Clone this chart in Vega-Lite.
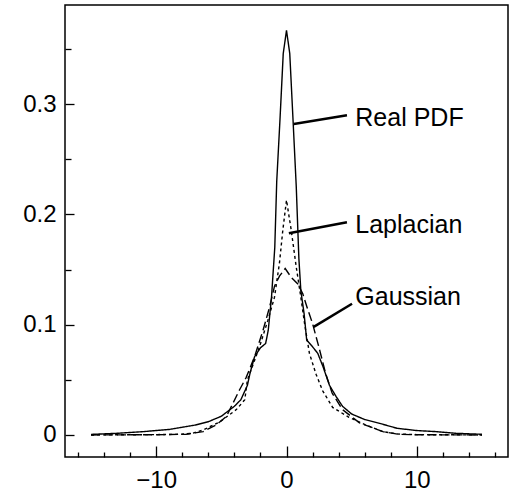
{
  "$schema": "https://vega.github.io/schema/vega-lite/v6.json",
  "width": 443,
  "height": 452,
  "autosize": {"type": "none"},
  "padding": {"left": 65, "top": 5, "right": 4, "bottom": 38},
  "background": "white",
  "config": {
    "view": {"stroke": "black", "strokeWidth": 1.5},
    "axis": {
      "domain": false,
      "grid": false,
      "title": null,
      "tickColor": "black",
      "tickWidth": 1.3,
      "labelFont": "Liberation Sans",
      "labelFontSize": 24,
      "labelColor": "black"
    }
  },
  "datasets": {
    "curves": [
      {"series": "Real PDF", "x": -15, "y": 0.0005},
      {"series": "Real PDF", "x": -13, "y": 0.0015},
      {"series": "Real PDF", "x": -11, "y": 0.003},
      {"series": "Real PDF", "x": -10, "y": 0.004},
      {"series": "Real PDF", "x": -9, "y": 0.005},
      {"series": "Real PDF", "x": -8, "y": 0.007},
      {"series": "Real PDF", "x": -7, "y": 0.009},
      {"series": "Real PDF", "x": -6, "y": 0.012},
      {"series": "Real PDF", "x": -5, "y": 0.017},
      {"series": "Real PDF", "x": -4, "y": 0.026},
      {"series": "Real PDF", "x": -3.5, "y": 0.032},
      {"series": "Real PDF", "x": -3, "y": 0.045},
      {"series": "Real PDF", "x": -2.8, "y": 0.056},
      {"series": "Real PDF", "x": -2.45, "y": 0.071},
      {"series": "Real PDF", "x": -2, "y": 0.079},
      {"series": "Real PDF", "x": -1.6, "y": 0.083},
      {"series": "Real PDF", "x": -1.4, "y": 0.095},
      {"series": "Real PDF", "x": -1.15, "y": 0.125},
      {"series": "Real PDF", "x": -0.9, "y": 0.17},
      {"series": "Real PDF", "x": -0.75, "y": 0.23},
      {"series": "Real PDF", "x": -0.5, "y": 0.286},
      {"series": "Real PDF", "x": -0.25, "y": 0.346},
      {"series": "Real PDF", "x": 0, "y": 0.367},
      {"series": "Real PDF", "x": 0.25, "y": 0.346},
      {"series": "Real PDF", "x": 0.5, "y": 0.286},
      {"series": "Real PDF", "x": 0.75, "y": 0.225},
      {"series": "Real PDF", "x": 0.95, "y": 0.16},
      {"series": "Real PDF", "x": 1.1, "y": 0.131},
      {"series": "Real PDF", "x": 1.35, "y": 0.11},
      {"series": "Real PDF", "x": 1.55, "y": 0.086},
      {"series": "Real PDF", "x": 2, "y": 0.08},
      {"series": "Real PDF", "x": 2.4, "y": 0.074},
      {"series": "Real PDF", "x": 2.8, "y": 0.062},
      {"series": "Real PDF", "x": 3.3, "y": 0.045},
      {"series": "Real PDF", "x": 3.8, "y": 0.035},
      {"series": "Real PDF", "x": 4.3, "y": 0.026},
      {"series": "Real PDF", "x": 5, "y": 0.019},
      {"series": "Real PDF", "x": 6, "y": 0.014},
      {"series": "Real PDF", "x": 7, "y": 0.011},
      {"series": "Real PDF", "x": 8.5, "y": 0.006},
      {"series": "Real PDF", "x": 10, "y": 0.004},
      {"series": "Real PDF", "x": 11.5, "y": 0.003},
      {"series": "Real PDF", "x": 13, "y": 0.0015},
      {"series": "Real PDF", "x": 15, "y": 0.0006},
      {"series": "Laplacian", "x": -15, "y": 0},
      {"series": "Laplacian", "x": -12, "y": 0.0002},
      {"series": "Laplacian", "x": -10, "y": 0.0003},
      {"series": "Laplacian", "x": -8.2, "y": 0.0006},
      {"series": "Laplacian", "x": -7.2, "y": 0.0015},
      {"series": "Laplacian", "x": -6.4, "y": 0.0045},
      {"series": "Laplacian", "x": -5.1, "y": 0.012},
      {"series": "Laplacian", "x": -3.85, "y": 0.023},
      {"series": "Laplacian", "x": -3.2, "y": 0.032},
      {"series": "Laplacian", "x": -3.0, "y": 0.05},
      {"series": "Laplacian", "x": -2.5, "y": 0.066},
      {"series": "Laplacian", "x": -2.07, "y": 0.08},
      {"series": "Laplacian", "x": -1.43, "y": 0.104},
      {"series": "Laplacian", "x": -0.92, "y": 0.125},
      {"series": "Laplacian", "x": -0.54, "y": 0.156},
      {"series": "Laplacian", "x": -0.28, "y": 0.186},
      {"series": "Laplacian", "x": 0, "y": 0.213},
      {"series": "Laplacian", "x": 0.36, "y": 0.186},
      {"series": "Laplacian", "x": 0.74, "y": 0.153},
      {"series": "Laplacian", "x": 1.1, "y": 0.125},
      {"series": "Laplacian", "x": 1.4, "y": 0.1},
      {"series": "Laplacian", "x": 1.76, "y": 0.074},
      {"series": "Laplacian", "x": 2.27, "y": 0.055},
      {"series": "Laplacian", "x": 2.78, "y": 0.04},
      {"series": "Laplacian", "x": 3.54, "y": 0.025},
      {"series": "Laplacian", "x": 4.8, "y": 0.016},
      {"series": "Laplacian", "x": 6.1, "y": 0.009},
      {"series": "Laplacian", "x": 7.4, "y": 0.003},
      {"series": "Laplacian", "x": 8.6, "y": 0.0008},
      {"series": "Laplacian", "x": 10, "y": 0.0003},
      {"series": "Laplacian", "x": 12, "y": 0.0002},
      {"series": "Laplacian", "x": 15, "y": 0},
      {"series": "Gaussian", "x": -15, "y": 0},
      {"series": "Gaussian", "x": -10, "y": 0.0002},
      {"series": "Gaussian", "x": -7.7, "y": 0.0006},
      {"series": "Gaussian", "x": -6.4, "y": 0.003},
      {"series": "Gaussian", "x": -5.4, "y": 0.009},
      {"series": "Gaussian", "x": -4.6, "y": 0.017},
      {"series": "Gaussian", "x": -4.1, "y": 0.029},
      {"series": "Gaussian", "x": -3.6, "y": 0.041},
      {"series": "Gaussian", "x": -3.1, "y": 0.052},
      {"series": "Gaussian", "x": -2.45, "y": 0.071},
      {"series": "Gaussian", "x": -1.8, "y": 0.095},
      {"series": "Gaussian", "x": -1.3, "y": 0.116},
      {"series": "Gaussian", "x": -0.92, "y": 0.135},
      {"series": "Gaussian", "x": -0.54, "y": 0.144},
      {"series": "Gaussian", "x": -0.1, "y": 0.151},
      {"series": "Gaussian", "x": 0.36, "y": 0.143},
      {"series": "Gaussian", "x": 0.87, "y": 0.137},
      {"series": "Gaussian", "x": 1.25, "y": 0.128},
      {"series": "Gaussian", "x": 1.6, "y": 0.115},
      {"series": "Gaussian", "x": 2, "y": 0.101},
      {"series": "Gaussian", "x": 2.5, "y": 0.079},
      {"series": "Gaussian", "x": 3.0, "y": 0.056},
      {"series": "Gaussian", "x": 3.5, "y": 0.038},
      {"series": "Gaussian", "x": 4.3, "y": 0.023},
      {"series": "Gaussian", "x": 5.6, "y": 0.011},
      {"series": "Gaussian", "x": 7.4, "y": 0.003},
      {"series": "Gaussian", "x": 8.6, "y": 0.0006},
      {"series": "Gaussian", "x": 10, "y": 0.0002},
      {"series": "Gaussian", "x": 12, "y": 0.0001},
      {"series": "Gaussian", "x": 15, "y": 0}
    ],
    "labels": [
      {"label": "Real PDF", "x": 5.28, "y": 0.28, "px": 0.56, "py": 0.282, "qx": 4.64, "qy": 0.29},
      {"label": "Laplacian", "x": 5.28, "y": 0.183, "px": 0.18, "py": 0.183, "qx": 4.64, "qy": 0.193},
      {"label": "Gaussian", "x": 5.28, "y": 0.118, "px": 2.09, "py": 0.098, "qx": 5.03, "qy": 0.119}
    ]
  },
  "resolve": {"axis": {"x": "independent", "y": "independent"}},
  "layer": [
    {
      "data": {"name": "curves"},
      "mark": {"type": "line", "color": "black", "strokeWidth": 1.4},
      "encoding": {
        "x": {"field": "x", "type": "quantitative",
              "scale": {"domain": [-17, 17], "nice": false, "zero": false},
              "axis": {"orient": "bottom", "values": [-16, -14, -12, -8, -6, -4, -2, 2, 4, 6, 8, 12, 14, 16], "labels": false, "tickSize": -5}},
        "y": {"field": "y", "type": "quantitative",
              "scale": {"domain": [-0.02, 0.39], "nice": false, "zero": false},
              "axis": {"orient": "left", "values": [0.05, 0.15, 0.25, 0.35], "labels": false, "tickSize": -6}},
        "detail": {"field": "series"},
        "strokeDash": {"field": "series", "type": "nominal",
                       "scale": {"domain": ["Real PDF", "Laplacian", "Gaussian"], "range": [[1, 0], [3, 3], [9, 4]]},
                       "legend": null}
      }
    },
    {
      "data": {"name": "labels"},
      "mark": {"type": "rule", "color": "black", "strokeWidth": 2.5},
      "encoding": {
        "x": {"field": "px", "type": "quantitative",
              "axis": {"orient": "bottom", "values": [-10, 0, 10], "tickSize": -11, "labelPadding": 22, "format": "d"}},
        "y": {"field": "py", "type": "quantitative",
              "axis": {"orient": "left", "values": [0, 0.1, 0.2, 0.3], "tickSize": -9, "labelPadding": 18, "format": "~g",
                       "labelAlign": "right",
                       "encode": {"labels": {"update": {"align": {"value": "right"}}}}}},
        "x2": {"field": "qx"},
        "y2": {"field": "qy"}
      }
    },
    {
      "data": {"name": "labels"},
      "mark": {"type": "text", "align": "left", "baseline": "alphabetic", "font": "Liberation Sans", "fontSize": 25, "color": "black"},
      "encoding": {
        "x": {"field": "x", "type": "quantitative", "axis": null},
        "y": {"field": "y", "type": "quantitative", "axis": null},
        "text": {"field": "label"}
      }
    }
  ]
}
